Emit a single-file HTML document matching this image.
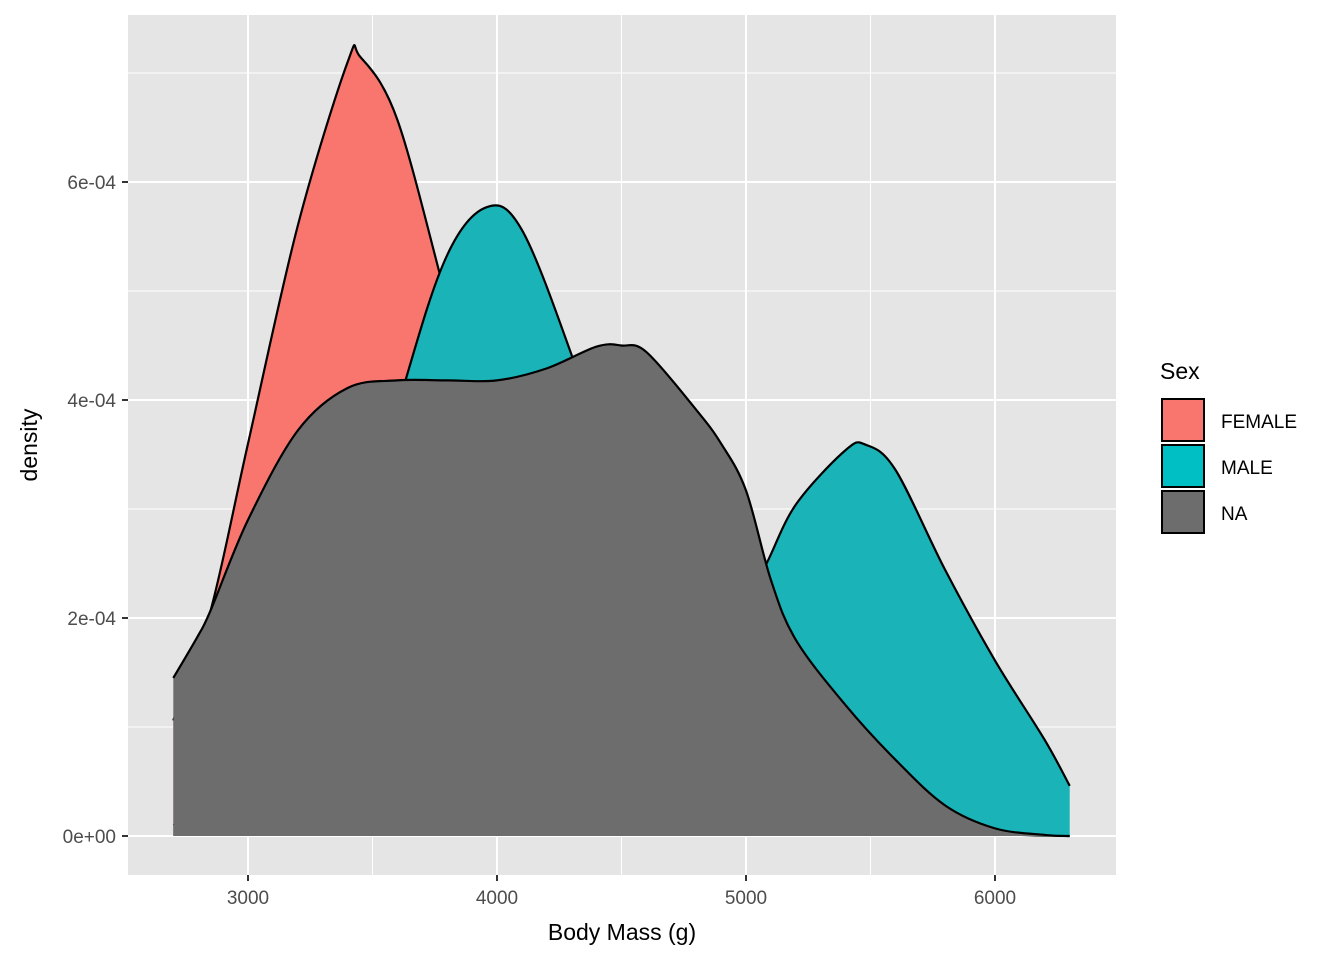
<!DOCTYPE html>
<html><head><meta charset="utf-8"><style>
body{margin:0;background:#fff;width:1344px;height:960px;overflow:hidden}
svg{display:block;font-family:"Liberation Sans",Arial,sans-serif}
</style></head><body>
<svg id="chart" width="1344" height="960">
<rect x="128" y="15" width="988" height="860" fill="#e5e5e5"/>
<g id="grid"></g>
<g id="areas"></g>
<g id="axes"></g>
<text x="622" y="940" font-size="23" text-anchor="middle" fill="#000">Body Mass (g)</text>
<text transform="translate(37,445) rotate(-90)" font-size="23" text-anchor="middle" fill="#000">density</text>
<g>
<text x="1160" y="379" font-size="23" fill="#000">Sex</text>
<rect x="1162" y="399" width="42" height="42" fill="#f8766d" stroke="#000" stroke-width="2"/>
<text x="1221" y="428" font-size="19">FEMALE</text>
<rect x="1162" y="445" width="42" height="42" fill="#00bfc4" stroke="#000" stroke-width="2"/>
<text x="1221" y="474" font-size="19">MALE</text>
<rect x="1162" y="491" width="42" height="42" fill="#6d6d6d" stroke="#000" stroke-width="2"/>
<text x="1221" y="520" font-size="19">NA</text>
</g>
</svg>
<script>
const femaleX=[2700,2850,3000,3200,3400,3450,3600,3800,4000,4200,4500,5000,5500,6000,6300];
const femaleY=[1.06,2.07,3.6,5.6,7.1,7.15,6.57,4.9,3.2,2.0,1.0,0.3,0.1,0.02,0];
const maleX=[2700,3000,3200,3400,3630,3800,3960,4100,4300,4500,4800,5000,5080,5200,5400,5480,5600,5800,6000,6200,6300];
const maleY=[0.1,0.4,1.0,2.2,4.16,5.33,5.77,5.56,4.41,3.0,2.0,2.2,2.49,3.04,3.54,3.59,3.36,2.44,1.61,0.88,0.46];
const naX=[2700,2800,2850,3000,3200,3400,3600,3800,4000,4200,4400,4500,4600,4800,4900,5000,5100,5200,5400,5600,5800,6000,6200,6300];
const naY=[1.45,1.84,2.07,2.9,3.72,4.11,4.18,4.18,4.18,4.29,4.49,4.5,4.44,3.91,3.6,3.17,2.35,1.8,1.2,0.7,0.28,0.07,0.01,0];
const xTicks=[3000,4000,5000,6000];
const yTicks=[0,2,4,6];
const yTickLabels=["0e+00","2e-04","4e-04","6e-04"];
const NS="http://www.w3.org/2000/svg";
const sx=v=>248+(v-3000)*0.249;
const sy=v=>836-v*109; // v in 1e-4
function mk(tag,attrs,parent){const e=document.createElementNS(NS,tag);for(const k in attrs)e.setAttribute(k,attrs[k]);parent.appendChild(e);return e;}
const grid=document.getElementById('grid'),axes=document.getElementById('axes'),areas=document.getElementById('areas');
xTicks.forEach((t,i)=>{
  const g=mk('line',{x1:sx(t),x2:sx(t),y1:15,y2:875,stroke:'#fff','stroke-width':2},grid);
  
  
  if(i<xTicks.length-1){const m=mk('line',{x1:sx(t+500),x2:sx(t+500),y1:15,y2:875,stroke:'#fff','stroke-width':1},grid);
  
  }
  const tk=mk('line',{x1:sx(t),x2:sx(t),y1:875,y2:881,stroke:'#333','stroke-width':2},axes);
  
  
  const tx=mk('text',{x:sx(t),y:904,'font-size':19,'text-anchor':'middle',fill:'#4d4d4d'},axes);
  tx.textContent=t;
  
  
});
yTicks.forEach((t,i)=>{
  const g=mk('line',{x1:128,x2:1116,y1:sy(t),y2:sy(t),stroke:'#fff','stroke-width':2},grid);
  
  
  const m=mk('line',{x1:128,x2:1116,y1:sy(t+1),y2:sy(t+1),stroke:'#fff','stroke-width':1},grid);
  
  
  const tk=mk('line',{x1:122,x2:128,y1:sy(t),y2:sy(t),stroke:'#333','stroke-width':2},axes);
  
  
  const tx=mk('text',{x:116,y:sy(t)+7,'font-size':19,'text-anchor':'end',fill:'#4d4d4d'},axes);
  tx.textContent=yTickLabels[i];
  
  
});
function smooth(pts){
  let d='M'+pts[0][0]+','+pts[0][1];
  for(let i=0;i<pts.length-1;i++){
    const p0=pts[Math.max(0,i-1)],p1=pts[i],p2=pts[i+1],p3=pts[Math.min(pts.length-1,i+2)];
    const c1=[p1[0]+(p2[0]-p0[0])/6,p1[1]+(p2[1]-p0[1])/6],c2=[p2[0]-(p3[0]-p1[0])/6,p2[1]-(p3[1]-p1[1])/6];
    d+=' C'+c1+' '+c2+' '+p2;
  }
  return d;
}
function area(xs,ys,color,name){
  const pts=xs.map((x,i)=>[sx(x),sy(ys[i])]);
  const line=smooth(pts);
  const f=mk('path',{d:line+' L'+pts[pts.length-1][0]+','+sy(0)+' L'+pts[0][0]+','+sy(0)+'Z',fill:color},areas);
  
  
  const l=mk('path',{d:line,fill:'none',stroke:'#000','stroke-width':2.2},areas);
  
  
}
area(femaleX,femaleY,'#f8766d','female-density');
area(maleX,maleY,'#19b3b8','male-density');
area(naX,naY,'#6d6d6d','na-density');
</script>
</body></html>
